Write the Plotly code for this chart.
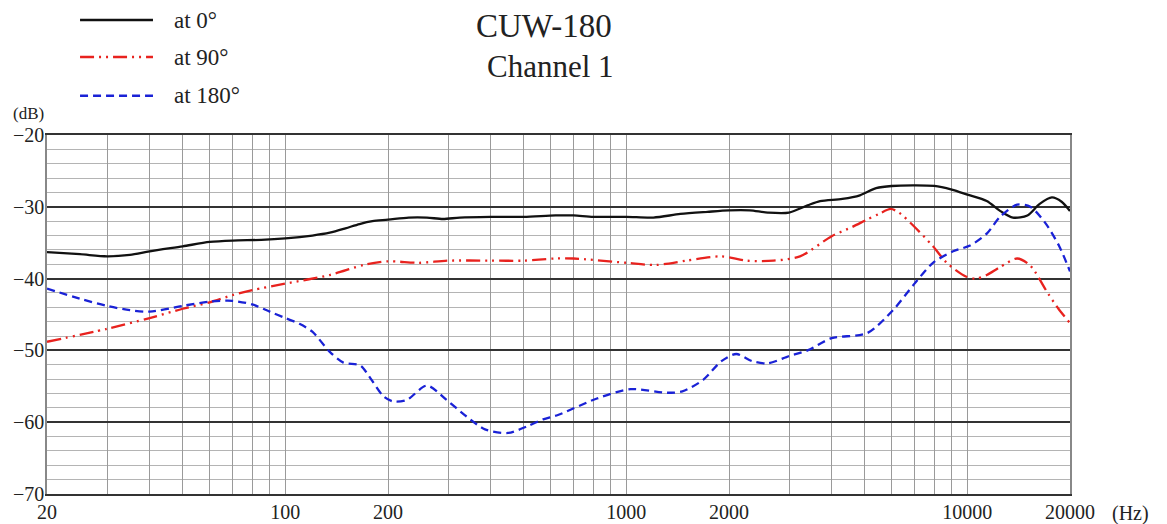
import plotly.graph_objects as go

# ---- data (frequency in Hz, level in dB) ----
freq_0 = [20, 25, 30, 35, 40, 50, 60, 70, 85, 100, 120, 135, 150, 165, 180, 200, 230, 260, 290, 325,
          400, 500, 620, 700, 800, 1000, 1200, 1440, 1730, 2000, 2300, 2600, 3000, 3400, 3700, 4300,
          4840, 5400, 6000, 8000, 9000, 10000, 11400, 12500, 13600, 15000, 16300, 17700, 18900, 20000]
db_0 = [-36.3, -36.6, -36.9, -36.7, -36.2, -35.5, -34.9, -34.7, -34.6, -34.4, -34.0, -33.6, -33.0, -32.4,
        -32.0, -31.8, -31.5, -31.5, -31.7, -31.5, -31.4, -31.4, -31.2, -31.2, -31.4, -31.4, -31.5, -31.0,
        -30.7, -30.5, -30.5, -30.8, -30.8, -29.8, -29.2, -28.9, -28.4, -27.4, -27.1, -27.1, -27.6, -28.3,
        -29.2, -30.6, -31.5, -31.2, -29.6, -28.7, -29.3, -30.6]

freq_90 = [20, 30, 40, 50, 60, 70, 80, 100, 135, 170, 200, 246, 300, 400, 500, 620, 700, 1000, 1220,
           1500, 1900, 2250, 2700, 3230, 4000, 4600, 5070, 5500, 5960, 6300, 6900, 7930, 8700, 9900,
           10600, 11400, 12470, 14000, 15300, 17200, 18500, 20000]
db_90 = [-48.8, -47.0, -45.5, -44.2, -43.3, -42.3, -41.6, -40.7, -39.5, -38.1, -37.6, -37.8, -37.5, -37.5,
         -37.5, -37.2, -37.2, -37.8, -38.1, -37.5, -36.9, -37.5, -37.5, -36.9, -34.1, -32.8, -31.8, -31.0,
         -30.3, -30.8, -32.5, -35.5, -37.8, -39.7, -40.0, -39.5, -38.4, -37.2, -38.2, -42.0, -44.2, -46.2]

freq_180 = [20, 25, 30, 35, 40, 50, 60, 70, 80, 90, 100, 110, 120, 135, 148, 166, 176, 194, 207, 227,
            260, 297, 340, 385, 450, 510, 570, 630, 820, 1030, 1320, 1460, 1680, 1900, 2100, 2340, 2600,
            3000, 3400, 4000, 5080, 6050, 7000, 7930, 9080, 10180, 11420, 12470, 14000, 15300, 16900,
            18600, 20000]
db_180 = [-41.4, -42.8, -43.8, -44.4, -44.6, -43.8, -43.2, -43.1, -43.6, -44.6, -45.5, -46.3, -47.4, -50.2,
          -51.7, -52.1, -53.6, -56.4, -57.1, -56.9, -54.9, -56.9, -59.2, -61.0, -61.5, -60.6, -59.6, -59.0,
          -56.7, -55.4, -55.9, -55.7, -54.1, -51.5, -50.5, -51.5, -51.8, -50.8, -50.0, -48.3, -47.6, -44.4,
          -40.7, -37.8, -36.2, -35.4, -33.7, -31.4, -29.7, -30.0, -32.2, -35.5, -39.0]

series_names = ["at 0°", "at 90°", "at 180°"]
series_colors = ["#111111", "#e8221e", "#1a22d6"]
series_dash = ["solid", "14px,5px,2px,5px,2px,5px", "8px,5px"]

# vertical grid positions and the labels shown at some of them
x_grid = [20, 30, 40, 50, 60, 70, 80, 90, 100, 200, 300, 400, 500, 600, 700, 800, 900,
          1000, 2000, 3000, 4000, 5000, 6000, 7000, 8000, 9000, 10000, 20000]
x_labels = {20: "20", 100: "100", 200: "200", 1000: "1000", 2000: "2000", 10000: "10000", 20000: "20000"}
y_major = [-20, -30, -40, -50, -60, -70]

FONT = "Liberation Serif, Times New Roman, serif"

fig = go.Figure()
for f, d, name, col, dash in zip([freq_0, freq_90, freq_180], [db_0, db_90, db_180],
                                 series_names, series_colors, series_dash):
    fig.add_trace(go.Scatter(x=f, y=d, mode="lines", name=name,
                             line=dict(color=col, width=2.3, dash=dash, shape="spline", smoothing=0.8),
                             showlegend=False))

# the page body adds an 8px offset, so the figure is 8px smaller and margins compensate
fig.update_layout(
    width=1159, height=516, autosize=False,
    margin=dict(l=39, r=97, t=127, b=30),
    paper_bgcolor="white", plot_bgcolor="white",
    font=dict(family=FONT, size=20, color="#222222"),
    xaxis=dict(type="log", range=[1.30103, 4.30103], automargin=False,
               tickvals=x_grid, ticktext=[x_labels.get(v, "") for v in x_grid], ticks="",
               showgrid=True, gridcolor="#9a9a9a", gridwidth=1.3,
               showline=True, linecolor="#333333", linewidth=2, mirror=True,
               zeroline=False, tickfont=dict(size=20, family=FONT), ticklabelstandoff=-1),
    yaxis=dict(range=[-70, -20], tickvals=y_major, ticks="", automargin=False,
               showgrid=True, gridcolor="#333333", gridwidth=1.6,
               minor=dict(dtick=2, showgrid=True, gridcolor="#b4b4b4", gridwidth=1.3, ticks=""),
               showline=True, linecolor="#888888", linewidth=1.5, mirror=True,
               zeroline=False, tickfont=dict(size=20, family=FONT), ticklabelstandoff=-3),
)

# titles
fig.add_annotation(text="CUW-180", x=0.486, y=1.305, xref="paper", yref="paper",
                   showarrow=False, xanchor="center", yanchor="middle",
                   font=dict(size=33, family=FONT, color="#222222"))
fig.add_annotation(text="Channel 1", x=0.4925, y=1.19, xref="paper", yref="paper",
                   showarrow=False, xanchor="center", yanchor="middle",
                   font=dict(size=31, family=FONT, color="#222222"))
fig.add_annotation(text="(dB)", x=-0.0176, y=1.061, xref="paper", yref="paper",
                   showarrow=False, xanchor="center", yanchor="middle",
                   font=dict(size=17, family=FONT, color="#222222"))
fig.add_annotation(text="(Hz)", x=1.059, y=-0.053, xref="paper", yref="paper",
                   showarrow=False, xanchor="center", yanchor="middle",
                   font=dict(size=20, family=FONT, color="#222222"))

# custom legend
legend_y = [1.320, 1.217, 1.109]
for name, col, dash, ly in zip(series_names, series_colors, series_dash, legend_y):
    fig.add_shape(type="line", xref="paper", yref="paper", x0=0.0323, x1=0.1036, y0=ly, y1=ly,
                  line=dict(color=col, width=2.5, dash=dash))
    fig.add_annotation(text=name, x=0.1222, y=ly, xref="paper", yref="paper",
                       showarrow=False, xanchor="left", yanchor="middle",
                       font=dict(size=23, family=FONT, color="#222222"))

fig.write_html("out.html")
